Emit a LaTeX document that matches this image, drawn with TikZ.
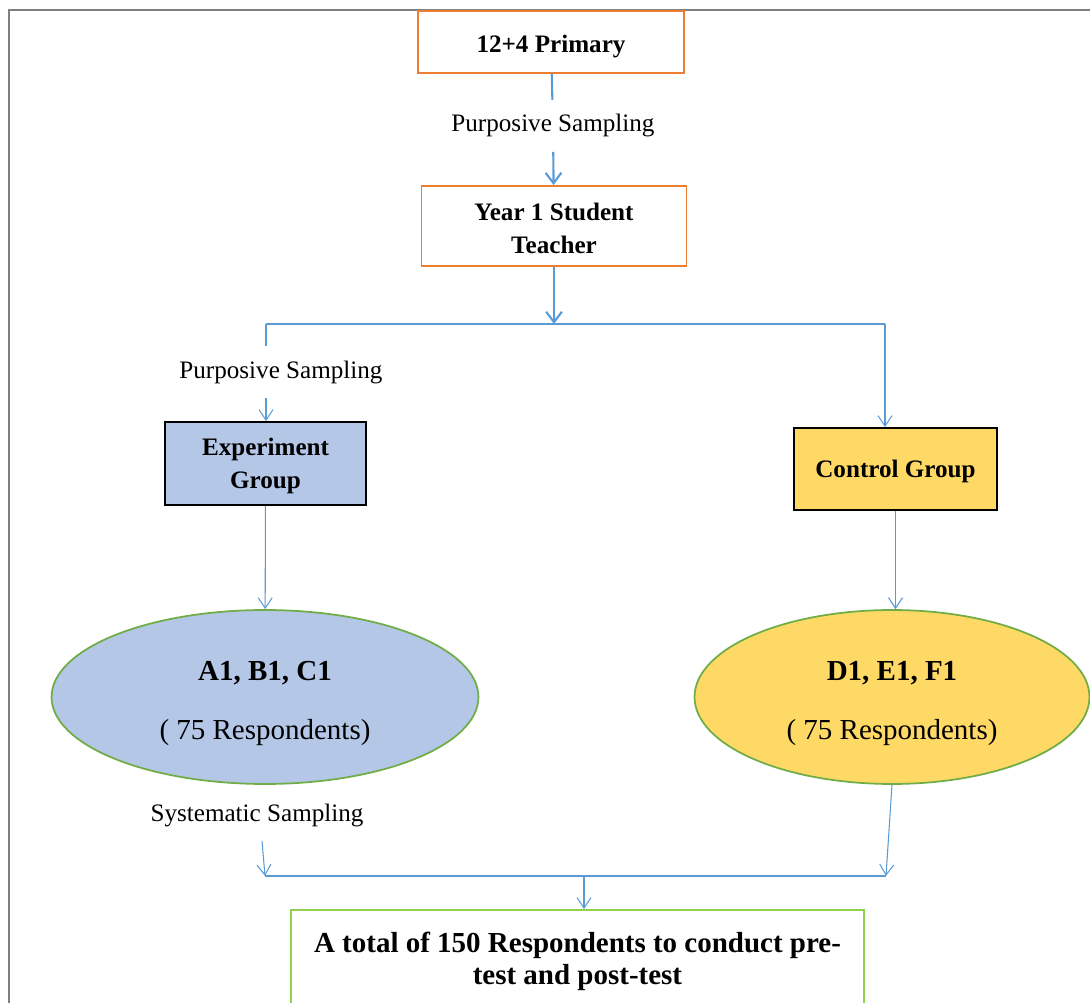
\documentclass[tikz,border=0pt]{standalone}
\usepackage{fontspec}
\setmainfont{Liberation Serif}
\usetikzlibrary{arrows.meta, shapes.geometric, calc}
\definecolor{boxorange}{HTML}{ED7D31}
\definecolor{lineblue}{HTML}{5B9BD5}
\definecolor{expblue}{HTML}{B4C7E7}
\definecolor{ctrlyellow}{HTML}{FFD966}
\definecolor{ellgreen}{HTML}{70AD47}
\definecolor{totalgreen}{HTML}{92D050}
\tikzset{
x=0.02cm, y=-0.02cm, % one unit is one pixel of the reference
link/.style={draw=lineblue, line width=0.6pt},
flow/.style={link, -{Straight Barb[length=6pt,width=8pt]}},
thickflow/.style={draw=lineblue, line width=1.2pt, -{Straight Barb[length=6pt,width=9pt]}},
topbox/.style={draw=boxorange, line width=1.1pt, align=center, inner sep=0pt,
  font=\bfseries\fontsize{14.3}{18.7}\selectfont},
grpbox/.style={draw=black, line width=1.1pt, align=center, inner sep=0pt,
  font=\bfseries\fontsize{14.3}{18.7}\selectfont},
grpell/.style={ellipse, draw=ellgreen, line width=1pt, align=center, inner sep=0pt,
  minimum height=3.48cm, font=\fontsize{16.5}{19}\selectfont},
samplabel/.style={inner xsep=0pt, inner ysep=8pt, font=\fontsize{14.3}{17}\selectfont},
}
\begin{document}
\begin{tikzpicture}
\useasboundingbox (0,0) rectangle (1090,1003);
% frame
\draw[gray, line width=1.3pt] (9,1003) -- (9,10) -- (1090,10);

% upper part
\node[topbox, minimum width=5.32cm, minimum height=1.24cm, text height=15pt] (prim) at (551,42) {12+4 Primary};
\node[samplabel] (ps1) at (553,126) {Purposive Sampling};
\node[topbox, minimum width=5.3cm, minimum height=1.6cm] (year) at (554,226) {\rule{0pt}{13pt}Year 1 Student\\Teacher};
\coordinate (split) at (554,324);
\coordinate (sl) at (266,324);
\coordinate (sr) at (885,324);
\node[samplabel] (ps2) at (281,372) {Purposive Sampling};

% groups
\node[grpbox, fill=expblue, minimum width=4.02cm, minimum height=1.66cm] (exp) at (265.5,463.5) {\rule{0pt}{13pt}Experiment\\Group};
\node[grpbox, fill=ctrlyellow, minimum width=4.06cm, minimum height=1.64cm, text height=13pt] (ctrl) at (895.5,469) {Control Group};
\node[grpell, fill=expblue, minimum width=8.54cm] (abc) at (265,697) {\rule{0pt}{18pt}\textbf{A1, B1, C1}\\[14.5pt]( 75 Respondents)};
\node[grpell, fill=ctrlyellow, minimum width=7.9cm] (def) at (892,697) {\rule{0pt}{18pt}\textbf{D1, E1, F1}\\[14.5pt]( 75 Respondents)};

% lower part
\node[samplabel] (sys) at (257,815) {Systematic Sampling};
\coordinate (jl) at (265,876);
\coordinate (jr) at (886,876);
\coordinate (jm) at (584,876);
\node[draw=totalgreen, line width=1.1pt, align=center, inner sep=0pt,
  minimum width=11.46cm, minimum height=2.04cm,
  font=\bfseries\fontsize{16.5}{18.2}\selectfont] (total) at (577.5,961)
  {A total of 150 Respondents to conduct pre-\\test and post-test};

% connectors
\draw[link, line width=1.2pt] (prim) -- (ps1);
\draw[thickflow] (ps1) -- (year);
\draw[thickflow] (year) -- (split);
\draw[link] (sl) -- (sr);
\draw[link] (sl) -- (sl |- ps2.north);
\draw[flow] (sl |- ps2.south) -- (exp.north -| sl);
\draw[flow] (sr) -- (sr |- ctrl.north);
\draw[flow] (exp) -- (abc);
\draw[flow] (ctrl.south) -- (ctrl.south |- def.north);
\draw[flow] ($(sys.south)+(5,0)$) -- (jl);
\draw[flow] (def.south) -- (jr);
\draw[link] (jl) -- (jr);
\draw[flow] (jm) -- (jm |- total.north);
\end{tikzpicture}
\end{document}
